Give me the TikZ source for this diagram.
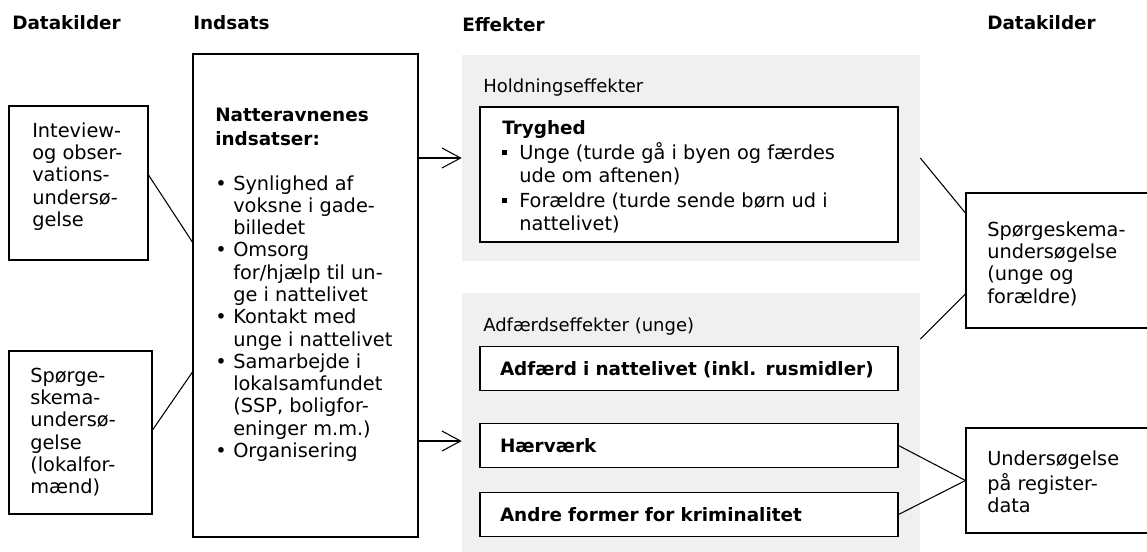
\documentclass[tikz,border=0pt]{standalone}
\usepackage{fontspec}
\setmainfont{DejaVu Sans}
\usetikzlibrary{positioning, arrows.meta}
\definecolor{panel_grey}{RGB}{240,240,240}
\newcommand{\fnt}{\fontsize{14.5}{16.7}\selectfont}
\newcommand{\bfnt}{\fontsize{13.8}{16.7}\selectfont\bfseries}
\newcommand{\lblfnt}{\fontsize{13.5}{16.7}\selectfont}
\newcommand{\bul}{\makebox[13.5pt][l]{•}}
\newcommand{\sqb}{\makebox[12.75pt][l]{\rule[3.4pt]{3.6pt}{3.6pt}}}
\newcommand{\ind}{\hspace*{13.5pt}}

\begin{document}
\begin{tikzpicture}[x=0.75pt, y=-0.75pt,
                    box/.style={rectangle, draw, fill=white, line width=0.8pt, inner sep=0pt},
                    panel/.style={rectangle, fill=panel_grey, inner sep=0pt},
                    effect/.style={box, minimum width=313.5pt, minimum height=33pt, text width=283.5pt,
                                   inner xsep=15pt, align=left, font=\bfnt, text height=9.8pt, text depth=0pt},
                    txt/.style={font=\fnt, align=left, inner sep=0pt, anchor=north west},
                    head/.style={font=\bfnt, inner sep=0pt, anchor=base west},
                    link/.style={line width=0.8pt},
                    connection/.style={-{Straight Barb[length=14pt, width=15pt]}, line width=0.8pt}]

  \useasboundingbox (0,0) rectangle (1147,552);

  % Column headings
  \node[head] (h1) at (12,30) {Datakilder};
  \node[head] (h2) at (193,30) {Indsats};
  \node[head] (h3) at (462,32) {Effekter};
  \node[head] (h4) at (987,30) {Datakilder};

  % Data sources, left
  \node[box, minimum width=104.25pt, minimum height=115.5pt] (src1) at (78.5,183) {};
  \node[txt] (src1txt) at (32,121.4) {\strut Inteview-\\og obser-\\vations-\\undersø-\\gelse};
  \node[box, minimum width=107.25pt, minimum height=122.25pt] (src2) at (80.5,432.5) {};
  \node[txt] (src2txt) at (30,366.4) {\strut Spørge-\\skema-\\undersø-\\gelse\\(lokalfor-\\mænd)};

  % Intervention
  \node[box, minimum width=168.75pt, minimum height=362.25pt] (ind) at (305.5,295.5) {};
  \node[txt] (indtxt) at (215,105.4) {\strut{\bfnt Natteravnenes}\\[1.3pt]
    {\bfnt indsatser:}\\[17pt]
    \bul Synlighed af\\
    \ind voksne i gade-\\
    \ind billedet\\
    \bul Omsorg\\
    \ind for/hjælp til un-\\
    \ind ge i nattelivet\\
    \bul Kontakt med\\
    \ind unge i nattelivet\\
    \bul Samarbejde i\\
    \ind lokalsamfundet\\
    \ind (SSP, boligfor-\\
    \ind eninger m.m.)\\
    \bul Organisering};

  % Effects
  \node[panel, minimum width=343.5pt, minimum height=154.5pt] (hold) at (691,158) {};
  \node[txt, font=\lblfnt, anchor=base west] (holdtxt) at (483,93) {Holdningseffekter};
  \node[box, minimum width=313.5pt, minimum height=101.25pt] (tryg) at (689,174.5) {};
  \node[txt, font=\fontsize{14.5}{17.2}\selectfont] (trygtxt) at (502,117.9) {\strut{\bfnt Tryghed}\\
    \sqb Unge (turde gå i byen og færdes\\
    \hspace*{12.75pt}ude om aftenen)\\[1.5pt]
    \sqb Forældre (turde sende børn ud i\\
    \hspace*{12.75pt}nattelivet)};

  \node[panel, minimum width=343.5pt, minimum height=194.25pt] (adf) at (691,422.5) {};
  \node[txt, font=\lblfnt, anchor=base west] (adftxt) at (483,332) {Adfærdseffekter (unge)};
  \node[effect] (nat) at (689,368.5) {Adfærd i nattelivet (inkl. rusmidler)};
  \node[effect] (hair) at (689,445.5) {Hærværk};
  \node[effect] (andre) at (689,514.5) {Andre former for kriminalitet};

  % Data sources, right
  \node[box, minimum width=138pt, minimum height=101.25pt] (rs1) at (1058,260.5) {};
  \node[txt] (rs1txt) at (987,220.4) {\strut Spørgeskema-\\undersøgelse\\(unge og\\forældre)};
  \node[box, minimum width=138pt, minimum height=78.75pt] (rs2) at (1058,480.5) {};
  \node[txt] (rs2txt) at (987,449.4) {\strut Undersøgelse\\på register-\\data};

  % Connections
  \coordinate (arr2) at ([yshift=-13.9pt]adf.west);
  \draw[link] ([yshift=6pt]src1.east) -- ([yshift=40pt]ind.west);
  \draw[link] ([yshift=1.9pt]src2.east) -- ([yshift=-57.4pt]ind.west);
  \draw[connection] (ind.east |- hold.west) -- (hold.west);
  \draw[connection] (ind.east |- arr2) -- (arr2);
  \draw[link] (hold.east) -- ([yshift=35.6pt]rs1.west);
  \draw[link] ([yshift=62.6pt]adf.east) -- ([yshift=-25.1pt]rs1.west);
  \draw[link] (hair.east) -- (rs2.west);
  \draw[link] (andre.east) -- (rs2.west);

\end{tikzpicture}
\end{document}
